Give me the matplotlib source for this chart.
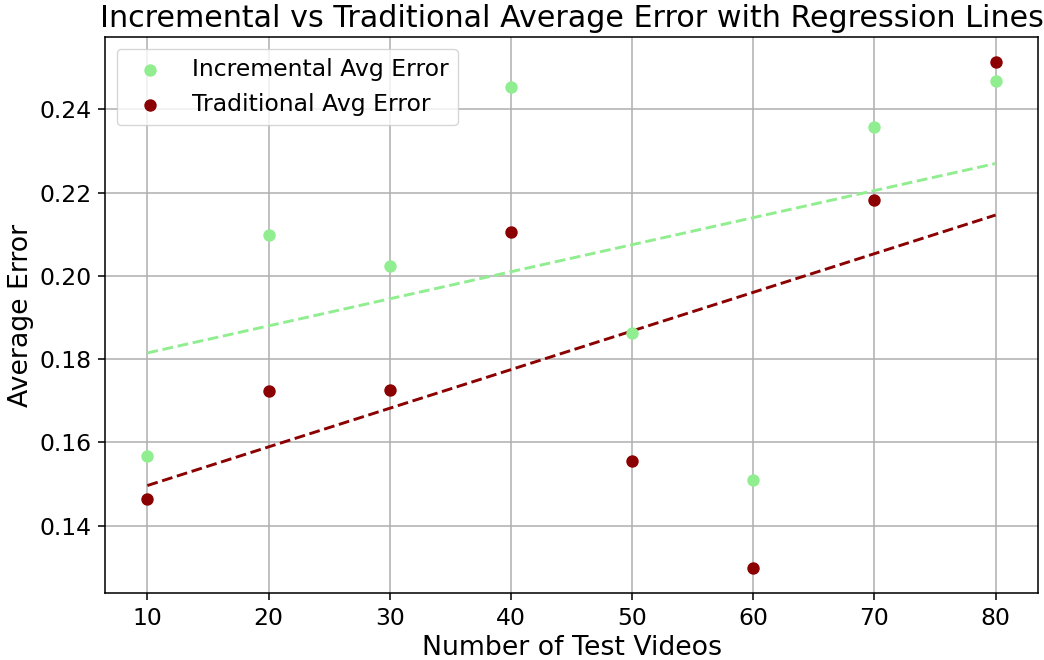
import numpy as np
import matplotlib
matplotlib.use("Agg")
import matplotlib.pyplot as plt

test_videos = [10, 20, 30, 40, 50, 60, 70, 80]
incremental_err = [0.1568, 0.2098, 0.2023, 0.2453, 0.1863, 0.1510, 0.2357, 0.2467]
traditional_err = [0.1465, 0.1724, 0.1726, 0.2105, 0.1556, 0.1299, 0.2182, 0.2513]

S = 1.4
plt.rcParams.update({
    "axes.linewidth": 0.8 * S,
    "xtick.major.width": 0.8 * S,
    "ytick.major.width": 0.8 * S,
    "xtick.major.size": 3.5 * S,
    "ytick.major.size": 3.5 * S,
    "xtick.major.pad": 3.5 * S,
    "ytick.major.pad": 3.5 * S,
    "grid.linewidth": 0.8 * S,
    "axes.titlepad": 7.0,
    "axes.labelpad": 4.0,
})

fig = plt.figure(figsize=(10.44, 6.6), dpi=100)
ax = fig.add_axes([105 / 1044, 67 / 660, 933 / 1044, 556 / 660])

x = np.array(test_videos, dtype=float)
yi = np.array(incremental_err)
yt = np.array(traditional_err)

ax.scatter(x, yi, color="lightgreen", s=63, label="Incremental Avg Error", zorder=3)
ax.scatter(x, yt, color="darkred", s=63, label="Traditional Avg Error", zorder=3)

pi = np.polyfit(x, yi, 1)
pt = np.polyfit(x, yt, 1)
ax.plot(x, np.polyval(pi, x), color="lightgreen", linestyle="--", linewidth=1.5 * S, zorder=2)
ax.plot(x, np.polyval(pt, x), color="darkred", linestyle="--", linewidth=1.5 * S, zorder=2)

ax.set_title("Incremental vs Traditional Average Error with Regression Lines", fontsize=21.7)
ax.set_xlabel("Number of Test Videos", fontsize=19.3)
ax.set_ylabel("Average Error", fontsize=19.3)
ax.tick_params(labelsize=16.9)
ax.grid(True)
ax.set_axisbelow(True)
ax.legend(loc="upper left", fontsize=16.9)

fig.savefig("out.png", dpi=100)
